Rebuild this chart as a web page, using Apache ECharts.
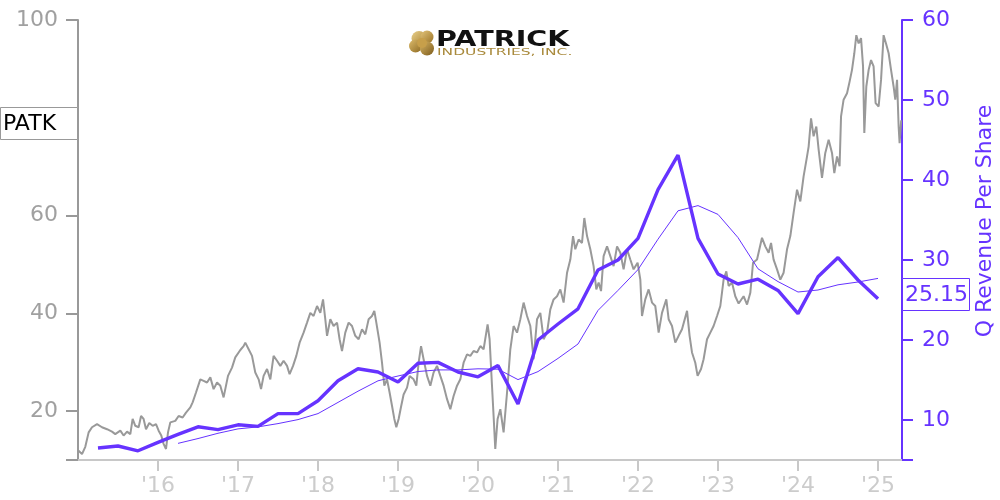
<!DOCTYPE html>
<html>
<head>
<meta charset="utf-8">
<script src="https://cdn.jsdelivr.net/npm/echarts@6/dist/echarts.min.js"></script>
<style>
html,body{margin:0;padding:0;background:#fff;}
#chart{width:1000px;height:500px;}
</style>
</head>
<body>
<div id="chart"></div>
<script>
// ---- DATA ----
const ticker = 'PATK';
const rightAxisName = 'Q Revenue Per Share';
const lastValueLabel = '25.15';
const yearTicks = [2016, 2017, 2018, 2019, 2020, 2021, 2022, 2023, 2024, 2025];
const yearLabels = ["'16", "'17", "'18", "'19", "'20", "'21", "'22", "'23", "'24", "'25"];
const leftTickLabels = [20, 40, 60, 80, 100];
const rightTickLabels = [10, 20, 30, 40, 50, 60];

// share price: [decimal year, price]
const pricePoints = [
[2015.008,11.9],[2015.05,11.2],[2015.091,12.7],[2015.133,15.65],[2015.175,16.7],[2015.238,17.35],[2015.3,16.7],[2015.363,16.3],[2015.425,15.8],[2015.466,15.3],[2015.529,16.0],[2015.57,15.0],[2015.613,15.8],[2015.654,15.3],[2015.683,18.4],[2015.716,17.0],[2015.758,16.7],[2015.788,19.0],[2015.82,18.4],[2015.85,16.3],[2015.891,17.55],[2015.933,17.0],[2015.975,17.35],
[2016.008,16.0],[2016.041,15.0],[2016.07,13.3],[2016.1,12.25],[2016.125,15.65],[2016.154,17.7],[2016.216,18.0],[2016.258,19.0],[2016.308,18.7],[2016.35,19.7],[2016.404,20.75],[2016.433,21.8],[2016.475,23.8],[2016.529,26.5],[2016.57,26.2],[2016.613,25.85],[2016.654,26.9],[2016.695,24.5],[2016.738,25.85],[2016.779,25.2],[2016.82,22.8],[2016.841,22.45],[2016.875,27.2],[2016.925,28.9],[2016.966,31.0],
[2017.029,32.5],[2017.07,33.3],[2017.091,34.0],[2017.133,32.65],[2017.175,31.3],[2017.216,27.9],[2017.258,26.5],[2017.288,24.5],[2017.32,27.2],[2017.363,28.6],[2017.404,26.5],[2017.445,31.3],[2017.488,30.3],[2017.529,29.25],[2017.57,30.3],[2017.613,29.25],[2017.645,27.55],[2017.688,29.25],[2017.729,31.3],[2017.77,34.0],[2017.82,36.05],[2017.863,38.1],[2017.904,40.1],[2017.945,39.45],[2017.988,41.5],
[2018.029,40.1],[2018.063,42.85],[2018.091,38.8],[2018.113,35.4],[2018.154,38.8],[2018.195,37.4],[2018.238,38.1],[2018.27,34.7],[2018.3,32.3],[2018.341,36.05],[2018.383,38.1],[2018.425,37.4],[2018.466,35.4],[2018.508,34.7],[2018.55,36.75],[2018.591,35.7],[2018.633,38.8],[2018.675,39.45],[2018.704,40.5],[2018.729,38.1],[2018.77,34.0],[2018.8,29.9],[2018.829,25.2],[2018.863,26.5],[2018.895,23.8],[2018.925,21.1],[2018.954,18.4],[2018.979,16.7],
[2019.008,18.4],[2019.038,20.9],[2019.07,23.4],[2019.113,24.8],[2019.145,27.2],[2019.195,26.5],[2019.229,25.2],[2019.258,29.9],[2019.288,33.3],[2019.32,30.6],[2019.363,27.2],[2019.404,25.2],[2019.445,27.9],[2019.488,29.25],[2019.529,27.2],[2019.57,25.2],[2019.613,22.45],[2019.654,20.4],[2019.695,23.1],[2019.738,25.2],[2019.779,26.5],[2019.82,29.9],[2019.863,31.6],[2019.904,31.3],[2019.945,32.3],[2019.988,32.0],
[2020.029,33.3],[2020.07,32.65],[2020.12,37.75],[2020.145,34.7],[2020.175,25.2],[2020.195,19.0],[2020.216,12.25],[2020.245,18.4],[2020.279,20.4],[2020.32,15.65],[2020.363,23.8],[2020.404,32.65],[2020.445,37.4],[2020.488,36.05],[2020.529,38.8],[2020.57,42.2],[2020.613,39.45],[2020.654,37.4],[2020.695,30.6],[2020.738,38.8],[2020.779,40.1],[2020.82,34.7],[2020.863,36.05],[2020.904,40.8],[2020.945,42.85],[2020.988,43.5],
[2021.029,44.9],[2021.07,42.2],[2021.113,48.3],[2021.154,51.0],[2021.188,55.8],[2021.216,53.1],[2021.258,55.1],[2021.3,54.4],[2021.329,59.5],[2021.363,55.8],[2021.404,53.1],[2021.445,49.65],[2021.479,44.9],[2021.508,46.3],[2021.538,44.55],[2021.57,51.7],[2021.613,53.7],[2021.654,51.7],[2021.695,49.65],[2021.738,53.7],[2021.779,52.4],[2021.82,49.0],[2021.863,53.1],[2021.904,51.0],[2021.945,49.0],[2021.995,50.35],
[2022.029,46.9],[2022.05,39.45],[2022.091,42.85],[2022.133,44.9],[2022.175,42.2],[2022.216,41.5],[2022.258,36.05],[2022.3,40.1],[2022.354,42.85],[2022.383,38.8],[2022.425,37.4],[2022.466,34.0],[2022.508,35.4],[2022.55,36.75],[2022.613,40.5],[2022.645,35.4],[2022.675,32.0],[2022.716,29.9],[2022.745,27.2],[2022.788,28.6],[2022.82,30.6],[2022.863,34.7],[2022.904,36.05],[2022.945,37.4],[2022.988,39.45],
[2023.029,41.5],[2023.07,46.9],[2023.104,48.6],[2023.133,45.6],[2023.175,46.3],[2023.216,43.5],[2023.258,42.0],[2023.32,43.5],[2023.363,41.8],[2023.404,44.2],[2023.438,50.35],[2023.488,51.0],[2023.55,55.45],[2023.591,53.7],[2023.633,52.4],[2023.663,54.4],[2023.695,51.0],[2023.738,49.0],[2023.779,46.9],[2023.82,48.3],[2023.863,53.1],[2023.904,55.8],[2023.945,60.55],[2023.988,65.3],
[2024.029,62.9],[2024.07,68.0],[2024.113,72.1],[2024.133,74.1],[2024.163,79.9],[2024.195,76.2],[2024.229,78.2],[2024.258,73.5],[2024.3,67.7],[2024.341,72.8],[2024.383,75.5],[2024.425,72.8],[2024.454,68.7],[2024.488,72.1],[2024.52,70.1],[2024.538,80.3],[2024.57,83.7],[2024.613,85.0],[2024.645,87.4],[2024.675,89.8],[2024.704,93.2],[2024.729,96.9],[2024.758,95.2],[2024.788,96.3],[2024.813,90.5],[2024.829,76.9],[2024.854,86.4],[2024.883,89.8],[2024.913,91.8],[2024.945,90.5],[2024.97,83.0],
[2025.008,82.3],[2025.038,87.75],[2025.07,96.9],[2025.1,95.2],[2025.133,93.2],[2025.163,89.8],[2025.195,86.4],[2025.216,83.7],[2025.238,87.75],[2025.258,78.2],[2025.27,74.8],[2025.29,79.5]
];

// quarterly revenue per share
const revQuarters = [2015.25,2015.5,2015.75,2016.0,2016.25,2016.5,2016.75,2017.0,2017.25,2017.5,2017.75,2018.0,2018.25,2018.5,2018.75,2019.0,2019.25,2019.5,2019.75,2020.0,2020.25,2020.5,2020.75,2021.0,2021.25,2021.5,2021.75,2022.0,2022.25,2022.5,2022.75,2023.0,2023.25,2023.5,2023.75,2024.0,2024.25,2024.5,2024.75,2025.0];
const revValues = [6.5,6.75,6.15,7.2,8.2,9.15,8.8,9.4,9.2,10.8,10.8,12.4,14.9,16.4,16.0,14.75,17.1,17.2,16.0,15.4,16.8,12.0,20.0,22.0,23.9,28.75,30.0,32.7,38.8,43.1,32.7,28.25,27.0,27.6,26.2,23.3,27.9,30.3,27.5,25.15];
// trailing average line (starts at 2016.25)
const avgQuarters = [2016.25,2016.5,2016.75,2017.0,2017.25,2017.5,2017.75,2018.0,2018.25,2018.5,2018.75,2019.0,2019.25,2019.5,2019.75,2020.0,2020.25,2020.5,2020.75,2021.0,2021.25,2021.5,2021.75,2022.0,2022.25,2022.5,2022.75,2023.0,2023.25,2023.5,2023.75,2024.0,2024.25,2024.5,2024.75,2025.0];
const avgValues = [7.08,7.68,8.34,8.89,9.14,9.55,10.05,10.8,12.2,13.6,14.9,15.5,16.06,16.26,16.26,16.4,16.35,15.05,16.05,17.7,19.5,23.7,26.2,28.8,32.6,36.15,36.8,35.7,32.8,28.9,27.3,26.0,26.25,26.9,27.25,27.7];

// ---- CHART ----
const PURPLE = '#6633ff';
const FONT = 'DejaVu Sans';
const chart = echarts.init(document.getElementById('chart'), null, {renderer: 'canvas'});

const option = {
  animation: false,
  backgroundColor: '#ffffff',
  grid: {left: 78, right: 98, top: 20, bottom: 40, containLabel: false},
  xAxis: {
    type: 'value', min: 2015, max: 2025.3, interval: 1,
    axisLine: {show: true, onZero: false, lineStyle: {color: '#c8c8c8', width: 2}},
    axisTick: {show: true, length: 11, lineStyle: {color: '#c8c8c8', width: 2}},
    axisLabel: {
      color: '#cccccc', fontSize: 22, fontFamily: FONT, margin: 15,
      showMinLabel: false, showMaxLabel: false,
      formatter: function (v) {
        const i = yearTicks.indexOf(v);
        return i >= 0 ? yearLabels[i] : '';
      }
    },
    splitLine: {show: false}
  },
  yAxis: [
    {
      type: 'value', position: 'left', min: 10, max: 100, interval: 10,
      axisLine: {show: true, lineStyle: {color: '#999999', width: 2}},
      axisTick: {show: true, length: 12, lineStyle: {color: '#999999', width: 2}, customValues: [10].concat(leftTickLabels)},
      axisLabel: {color: '#a0a0a0', fontSize: 22, fontFamily: FONT, margin: 20, customValues: leftTickLabels},
      splitLine: {show: false}
    },
    {
      type: 'value', position: 'right', min: 5, max: 60, interval: 5,
      axisLine: {show: true, lineStyle: {color: PURPLE, width: 2}},
      axisTick: {show: true, length: 11, lineStyle: {color: PURPLE, width: 2}, customValues: [5].concat(rightTickLabels)},
      axisLabel: {color: PURPLE, fontSize: 22, fontFamily: FONT, margin: 20, customValues: rightTickLabels},
      splitLine: {show: false}
    }
  ],
  series: [
    {
      name: ticker, type: 'line', yAxisIndex: 0, showSymbol: false, z: 2,
      data: pricePoints,
      lineStyle: {color: '#999999', width: 2},
      itemStyle: {color: '#999999'}
    },
    {
      name: 'avg', type: 'line', yAxisIndex: 1, showSymbol: false, z: 3,
      data: avgQuarters.map((t, i) => [t, avgValues[i]]),
      lineStyle: {color: PURPLE, width: 1},
      itemStyle: {color: PURPLE}
    },
    {
      name: rightAxisName, type: 'line', yAxisIndex: 1, showSymbol: false, z: 4,
      data: revQuarters.map((t, i) => [t, revValues[i]]),
      lineStyle: {color: PURPLE, width: 3.4},
      itemStyle: {color: PURPLE}
    }
  ],
  graphic: [
    {type: 'rect', z: 100, shape: {x: 0.5, y: 107.5, width: 77, height: 32},
     style: {fill: '#ffffff', stroke: '#999999', lineWidth: 1}},
    {type: 'text', z: 101, x: 3, y: 124,
     style: {text: ticker, fill: '#000000', font: '22px "DejaVu Sans"', textAlign: 'left', textVerticalAlign: 'middle'}},
    {type: 'rect', z: 100, shape: {x: 902.5, y: 278.5, width: 67, height: 32},
     style: {fill: '#ffffff', stroke: PURPLE, lineWidth: 1}},
    {type: 'text', z: 101, x: 905, y: 295,
     style: {text: lastValueLabel, fill: PURPLE, font: '22px "DejaVu Sans"', textAlign: 'left', textVerticalAlign: 'middle'}},
    {type: 'text', z: 101, x: 985, y: 221, rotation: Math.PI / 2,
     style: {text: rightAxisName, fill: PURPLE, font: '22px "DejaVu Sans"', textAlign: 'center', textVerticalAlign: 'middle'}},
    {type: 'group', z: 101, children: [
      {type: 'circle', shape: {cx: 419, cy: 38.5, r: 7.5},
       style: {fill: new echarts.graphic.LinearGradient(0, 0, 1, 1, [{offset: 0, color: '#e8cf8a'}, {offset: 1, color: '#a57d2c'}])}},
      {type: 'circle', shape: {cx: 427, cy: 37, r: 6.5},
       style: {fill: new echarts.graphic.LinearGradient(0, 0, 1, 1, [{offset: 0, color: '#e3c47a'}, {offset: 1, color: '#9a7326'}])}},
      {type: 'circle', shape: {cx: 415.5, cy: 46, r: 6.5},
       style: {fill: new echarts.graphic.LinearGradient(0, 0, 1, 1, [{offset: 0, color: '#dcbb6c'}, {offset: 1, color: '#8e6a22'}])}},
      {type: 'circle', shape: {cx: 427, cy: 48.5, r: 7},
       style: {fill: new echarts.graphic.LinearGradient(0, 0, 1, 1, [{offset: 0, color: '#d8b565'}, {offset: 1, color: '#7d5c1c'}])}},
      {type: 'circle', shape: {cx: 422, cy: 43, r: 5},
       style: {fill: '#c79f4a'}}
    ]},
    {type: 'text', z: 101, x: 436, y: 41, scaleX: 1.36, scaleY: 1,
     style: {text: 'PATRICK', fill: '#111111', font: 'bold 21px "DejaVu Sans"', textAlign: 'left', textVerticalAlign: 'middle'}},
    {type: 'text', z: 101, x: 437, y: 52.5, scaleX: 1.72, scaleY: 1,
     style: {text: 'INDUSTRIES, INC.', fill: '#a98a3c', font: '9px "DejaVu Sans"', textAlign: 'left', textVerticalAlign: 'middle'}}
  ]
};
chart.setOption(option);
</script>
</body>
</html>
